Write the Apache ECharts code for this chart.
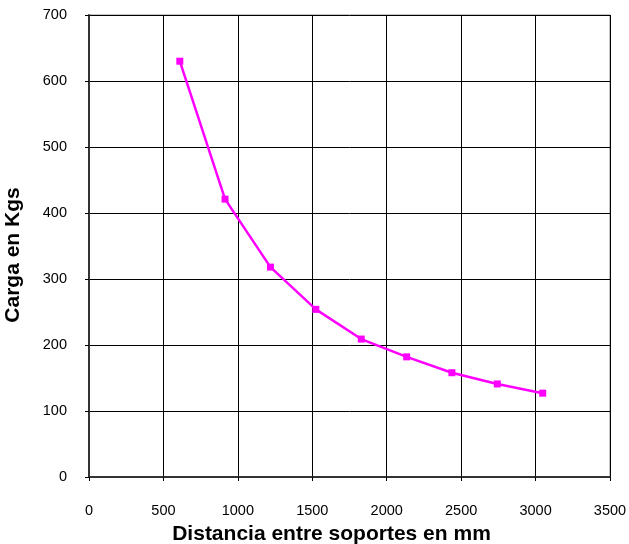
<!DOCTYPE html>
<html>
<head>
<meta charset="utf-8">
<script src="https://cdn.jsdelivr.net/npm/echarts@6/dist/echarts.min.js"></script>
<style>
  html, body { margin: 0; padding: 0; background: #fff; }
  #chart { width: 629px; height: 544px; }
</style>
</head>
<body>
<div id="chart"></div>
<script>
// Span between supports (mm) and the load it can carry (kg)
const distanciasMm = [610, 914, 1219, 1524, 1829, 2134, 2438, 2743, 3048];
const cargasKg = [630, 421, 318, 254, 209, 182, 158, 141, 127];

const puntos = distanciasMm.map((d, i) => [d, cargasKg[i]]);

const chart = echarts.init(document.getElementById('chart'));
const fuente = '"Liberation Sans", Arial, sans-serif';
const sinSeparador = v => String(v);

chart.setOption({
  animation: false,
  backgroundColor: '#ffffff',
  grid: {
    left: 89, right: 19, top: 15, bottom: 67,
    outerBoundsMode: 'none',
    containLabel: false,
    show: true, borderColor: '#888888', borderWidth: 1
  },
  xAxis: {
    type: 'value', min: 0, max: 3500, interval: 500,
    name: 'Distancia entre soportes en mm',
    nameLocation: 'middle', nameGap: 47,
    nameTextStyle: { fontFamily: fuente, fontSize: 21, fontWeight: 'bold', color: '#000', padding: [0, 36, 0, 0] },
    axisLine: { show: true, lineStyle: { color: '#333333', width: 2 } },
    axisTick: { show: true, length: 4, lineStyle: { color: '#000' } },
    axisLabel: { fontFamily: fuente, fontSize: 14.5, color: '#000', margin: 26, formatter: sinSeparador },
    splitLine: { show: true, lineStyle: { color: '#000', width: 1 } }
  },
  yAxis: {
    type: 'value', min: 0, max: 700, interval: 100,
    name: 'Carga en Kgs',
    nameLocation: 'middle', nameGap: 65, nameRotate: 90,
    nameTextStyle: { fontFamily: fuente, fontSize: 21, fontWeight: 'bold', color: '#000', padding: [0, 18, 0, 0] },
    axisLine: { show: true, lineStyle: { color: '#333333', width: 2 } },
    axisTick: { show: true, length: 4, lineStyle: { color: '#000' } },
    axisLabel: { fontFamily: fuente, fontSize: 14.5, color: '#000', margin: 22, formatter: sinSeparador },
    splitLine: { show: true, lineStyle: { color: '#000', width: 1 } }
  },
  series: [{
    type: 'line',
    data: puntos,
    smooth: false,
    symbol: 'rect',
    symbolSize: 7,
    lineStyle: { color: '#ff00ff', width: 2.5 },
    itemStyle: { color: '#ff00ff' }
  }]
});
</script>
</body>
</html>
